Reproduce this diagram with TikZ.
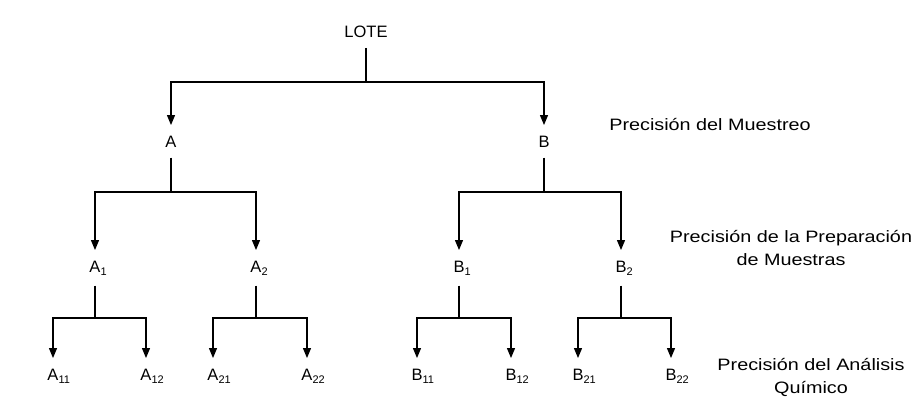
\documentclass[tikz,border=0pt]{standalone}
\usepackage{fontspec}
\setmainfont{Liberation Sans}
\newfontfamily\anchafont[FakeStretch=1.2]{Liberation Sans}
\usetikzlibrary{arrows.meta}
\newcommand{\sub}[2]{#1\rlap{\raisebox{-0.35ex}{\fontsize{11}{11}\selectfont #2}}}

\begin{document}
\begin{tikzpicture}[x=1pt,y=-1pt,line width=1.2pt,
    font=\fontsize{16.5}{23}\selectfont,
    etiq/.style={anchor=base,inner xsep=0pt,inner ysep=10pt},
    precis/.style={anchor=base,align=center,font=\anchafont\fontsize{16.5}{23}\selectfont},
    flecha/.style={-{Triangle[length=10pt,width=8pt]}}]
        \useasboundingbox (0,0) rectangle (922,407);
        % niveles
        \node[etiq](L)at(366,37){LOTE};
        \node[etiq](A)at(171,147){A};
        \node[etiq](B)at(544,147){B};
        \node[etiq](A1)at(95,272){\sub{A}{1}};
        \node[etiq](A2)at(256,272){\sub{A}{2}};
        \node[etiq](B1)at(459,272){\sub{B}{1}};
        \node[etiq](B2)at(621,272){\sub{B}{2}};
        \node[etiq](A11)at(53,380){\sub{A}{11}};
        \node[etiq](A12)at(146,380){\sub{A}{12}};
        \node[etiq](A21)at(213,380){\sub{A}{21}};
        \node[etiq](A22)at(307,380){\sub{A}{22}};
        \node[etiq](B11)at(417,380){\sub{B}{11}};
        \node[etiq](B12)at(511,380){\sub{B}{12}};
        \node[etiq](B21)at(578,380){\sub{B}{21}};
        \node[etiq](B22)at(671,380){\sub{B}{22}};
        % ramas
        \coordinate(jL)at(366,82);
        \coordinate(jA)at(171,192);
        \coordinate(jB)at(544,192);
        \coordinate(jA1)at(95,318);
        \coordinate(jA2)at(256,318);
        \coordinate(jB1)at(459,318);
        \coordinate(jB2)at(621,318);
        \draw(L)--(jL);
        \draw[flecha](jL)-|(A);
        \draw[flecha](jL)-|(B);
        \draw(A)--(jA);
        \draw[flecha](jA)-|(A1);
        \draw[flecha](jA)-|(A2);
        \draw(B)--(jB);
        \draw[flecha](jB)-|(B1);
        \draw[flecha](jB)-|(B2);
        \draw(A1)--(jA1);
        \draw[flecha](jA1)-|(A11);
        \draw[flecha](jA1)-|(A12);
        \draw(A2)--(jA2);
        \draw[flecha](jA2)-|(A21);
        \draw[flecha](jA2)-|(A22);
        \draw(B1)--(jB1);
        \draw[flecha](jB1)-|(B11);
        \draw[flecha](jB1)-|(B12);
        \draw(B2)--(jB2);
        \draw[flecha](jB2)-|(B21);
        \draw[flecha](jB2)-|(B22);
        % precisiones
        \node[precis](pm)at(710,130){Precisión del Muestreo};
        \node[precis](pp)at(791,265){Precisión de la Preparación\\de Muestras};
        \node[precis](pa)at(811,393){Precisión del Análisis\\Químico};
    \end{tikzpicture}
\end{document}
